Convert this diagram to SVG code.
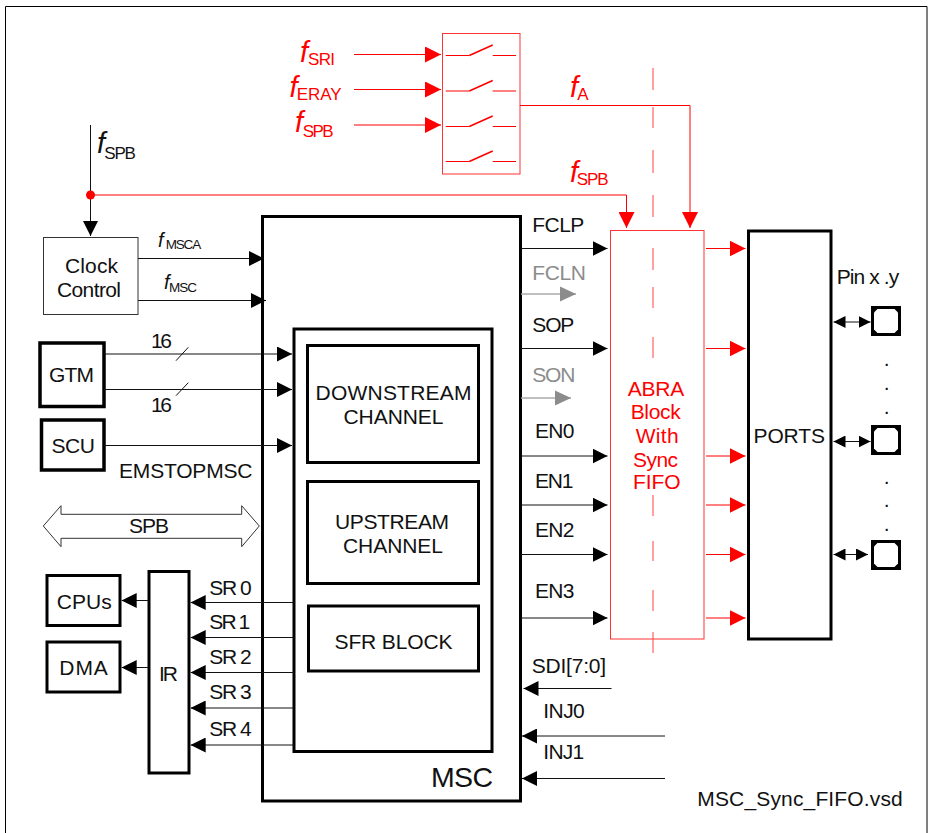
<svg xmlns="http://www.w3.org/2000/svg" width="928" height="833" viewBox="0 0 928 833">
<style>
text{font-family:"Liberation Sans",Arial,sans-serif;font-size:21px;fill:#111}
.r{fill:#f00}.g{fill:#8c8c8c}
.f{font-style:italic;font-size:29px}
.fs{font-style:italic;font-size:20px}
.s{font-size:17px}.ss{font-size:13.5px}
.b{fill:#fff;stroke:#000;stroke-width:3}
.bt{fill:#fff;stroke:#000;stroke-width:3.5}
.thin{fill:#fff;stroke:#333;stroke-width:1}
.rb{fill:#fff;stroke:#f33;stroke-width:1}
.k{fill:none;stroke:#111;stroke-width:1}
.ka{fill:none;stroke:#111;stroke-width:1;marker-end:url(#ah)}
.ra{fill:none;stroke:#f00;stroke-width:1;marker-end:url(#ahr)}
.ga{fill:none;stroke:#aaa;stroke-width:1.3;marker-end:url(#ahg)}
.rl{fill:none;stroke:#f00;stroke-width:1}
.da{fill:none;stroke:#111;stroke-width:1;marker-start:url(#ahs);marker-end:url(#ahe)}
</style>
<defs>
<marker id="ah" markerUnits="userSpaceOnUse" markerWidth="15" markerHeight="15" refX="15" refY="7.5" orient="auto"><path d="M0,0L15,7.5L0,15z" fill="#000"/></marker>
<marker id="ahr" markerUnits="userSpaceOnUse" markerWidth="16" markerHeight="16" refX="16" refY="8" orient="auto"><path d="M0,0L16,8L0,16z" fill="#f00"/></marker>
<marker id="ahg" markerUnits="userSpaceOnUse" markerWidth="16" markerHeight="16" refX="16" refY="8" orient="auto"><path d="M0,0.5L16,8L0,15.5z" fill="#8c8c8c"/></marker>
<marker id="ahe" markerUnits="userSpaceOnUse" markerWidth="12" markerHeight="12" refX="12" refY="6" orient="auto"><path d="M0,0L12,6L0,12z" fill="#000"/></marker>
<marker id="ahs" markerUnits="userSpaceOnUse" markerWidth="12" markerHeight="12" refX="0" refY="6" orient="auto"><path d="M12,0L0,6L12,12z" fill="#000"/></marker>
</defs>
<rect width="928" height="833" fill="#fff"/>
<path d="M5.5,833V6.5H927V833" fill="none" stroke="#000" stroke-width="1"/>

<g id="msc"><rect class="b" x="262.5" y="216.5" width="258" height="584.5"/><text x="431" y="787" style="font-size:28.5px" textLength="62">MSC</text></g>
<g id="msc-inner"><rect class="b" x="294" y="329" width="198" height="422.5"/></g>
<g id="downstream"><rect class="b" x="307.5" y="345.5" width="171" height="117"/><text x="315.5" y="400" textLength="156">DOWNSTREAM</text><text x="343.5" y="424" textLength="100">CHANNEL</text></g>
<g id="upstream"><rect class="b" x="307.5" y="481.5" width="171" height="102"/><text x="335" y="529" textLength="114">UPSTREAM</text><text x="343" y="552.7" textLength="100">CHANNEL</text></g>
<g id="sfr"><rect class="b" x="308.5" y="606" width="170" height="65"/><text x="334.5" y="649" textLength="118">SFR BLOCK</text></g>
<g id="clock"><rect class="thin" x="43.5" y="237.5" width="94.5" height="77"/><text x="65" y="272.7" textLength="53">Clock</text><text x="57" y="296.7" textLength="64">Control</text></g>
<g id="gtm"><rect class="bt" x="40" y="343" width="64" height="63.5"/><text x="49" y="381.7" textLength="45">GTM</text></g>
<g id="scu"><rect class="bt" x="41.5" y="420" width="62.5" height="50"/><text x="51.5" y="453.3" textLength="43.5">SCU</text></g>
<g id="spb"><path d="M43.3,526L61,505.7V514.3H241.7V505.7L259.3,526L241.7,546.7V538.3H61V546.7Z" fill="#fff" stroke="#333" stroke-width="1"/><text x="129" y="533.3" textLength="40">SPB</text></g>
<g id="cpus"><rect class="b" x="47" y="575.5" width="73" height="50"/><text x="56.7" y="609" textLength="55">CPUs</text></g>
<g id="dma"><rect class="b" x="47" y="642" width="73" height="50"/><text x="59.3" y="675" textLength="48.5">DMA</text></g>
<g id="ir"><rect class="b" x="149" y="571.5" width="40" height="201.5"/><text x="159" y="681" textLength="19">IR</text></g>
<g id="abra"><rect class="rb" x="610.5" y="230.5" width="93.5" height="408.5"/><text class="r" x="627.7" y="395.7" textLength="56.5">ABRA</text><text class="r" x="630.7" y="419.3" textLength="50">Block</text><text class="r" x="635.7" y="443.3" textLength="43">With</text><text class="r" x="633" y="467.3" textLength="45">Sync</text><text class="r" x="633" y="489" textLength="47.5">FIFO</text></g>
<g id="ports"><rect class="b" x="748.5" y="231" width="82.5" height="408"/><text x="753.5" y="443.3" textLength="71.5">PORTS</text></g>
<g id="pin1"><rect x="871" y="306" width="30" height="30" fill="#000"/><path d="M877.5,309H894.5L898,312.5V329.5L894.5,333H877.5L874,329.5V312.5Z" fill="#fff"/></g>
<g id="pin2"><rect x="871" y="425" width="30" height="30" fill="#000"/><path d="M877.5,428H894.5L898,431.5V448.5L894.5,452H877.5L874,448.5V431.5Z" fill="#fff"/></g>
<g id="pin3"><rect x="871" y="540" width="30" height="30" fill="#000"/><path d="M877.5,543H894.5L898,546.5V563.5L894.5,567H877.5L874,563.5V546.5Z" fill="#fff"/></g>
<g id="switch"><rect class="rb" x="442.5" y="33.5" width="77.5" height="140.5"/>
<path class="rl" d="M445.7,55.5H469.3M492.7,55.5H516M445.7,91H469.3M492.7,91H516M445.7,126.5H469.3M492.7,126.5H516M445.7,161.5H469.3M492.7,161.5H516"/>
<path d="M469.3,55.5L492.7,45M469.3,91L492.7,80.5M469.3,126.5L492.7,116M469.3,161.5L492.7,151" fill="none" stroke="#f00" stroke-width="1.6"/></g>

<g id="connectors">
<path class="ra" d="M354,54.5H441"/><path class="ra" d="M354,89.5H441"/><path class="ra" d="M354,125H441"/>
<path class="ra" d="M520,105.5H690V228"/>
<path class="ra" d="M90.5,195H626.5V228"/>
<path d="M653,68V90M653,107V128M653,150V173M653,195V217M653,248V270M653,287V308M653,337V358M653,495V516M653,541V561M653,590V611M653,632V653" fill="none" stroke="#f44" stroke-width="1"/>
<path class="ka" d="M90.5,125V236"/>
<circle cx="90.5" cy="195" r="4.5" fill="#f00"/>
<path class="ka" d="M138,258.5H264"/><path class="ka" d="M138,300.5H266"/>
<path class="ka" d="M104,354H292"/><path class="ka" d="M104,389.5H292"/><path class="ka" d="M104,445.5H292"/>
<path class="k" d="M176,360.7L188.3,347.3M176,395.7L188.3,382.7"/>
<path class="ka" d="M148,600.5H121.7"/><path class="ka" d="M148,667.5H121.7"/>
<path class="ka" d="M294,602.5H190.7"/><path class="ka" d="M294,637.5H190.7"/><path class="ka" d="M294,672.5H190.7"/><path class="ka" d="M294,708H190.7"/><path class="ka" d="M294,745H190.7"/>
<path class="ka" d="M521,248.5H607.5"/><path class="ga" d="M521,294H576"/><path class="ka" d="M521,348.5H607.5"/><path class="ga" d="M521,398H571"/><path class="ka" d="M521,456H607.5"/><path class="ka" d="M521,505H607.5"/><path class="ka" d="M521,554.5H607.5"/><path class="ka" d="M521,618H607.5"/>
<path class="ra" d="M706,248.5H745.5"/><path class="ra" d="M706,348.5H745.5"/><path class="ra" d="M706,456H745.5"/><path class="ra" d="M706,505H745.5"/><path class="ra" d="M706,554.5H745.5"/><path class="ra" d="M706,618H745.5"/>
<path class="ka" d="M611.5,688.5H523.5"/><path class="ka" d="M665,736H522"/><path class="ka" d="M665,778.5H522"/>
<path class="da" d="M833.5,322H870.5"/><path class="da" d="M833.5,441.5H870.5"/><path class="da" d="M833.5,554.5H868"/>
</g>

<g id="labels">
<text class="r f" x="300" y="61.7">f</text><text class="r s" x="308" y="64.5" textLength="27">SRI</text>
<text class="r f" x="289.5" y="96.7">f</text><text class="r s" x="296.7" y="100" textLength="45">ERAY</text>
<text class="r f" x="295" y="131.7">f</text><text class="r s" x="302.7" y="136.7" textLength="31">SPB</text>
<text class="r f" x="570" y="96.7">f</text><text class="r s" x="577.3" y="100">A</text>
<text class="r f" x="570" y="182">f</text><text class="r s" x="576.7" y="185" textLength="32">SPB</text>
<text class="f" x="97" y="152.7">f</text><text class="s" x="104.3" y="159" textLength="31.5">SPB</text>
<text class="fs" x="158" y="247.3">f</text><text class="ss" x="165.7" y="249" textLength="35.5">MSCA</text>
<text class="fs" x="164" y="289.3">f</text><text class="ss" x="169" y="292" textLength="28">MSC</text>
<text x="151" y="348.3" textLength="21">16</text><text x="151" y="412.3" textLength="21">16</text>
<text x="119" y="478" textLength="133.5">EMSTOPMSC</text>
<text x="209.3" y="595" textLength="42.5">SR 0</text><text x="209.3" y="629.3" textLength="41">SR 1</text><text x="209.3" y="664.3" textLength="42.5">SR 2</text><text x="209.3" y="699" textLength="42.5">SR 3</text><text x="209.3" y="736" textLength="42.5">SR 4</text>
<text x="532.3" y="232.3" textLength="52">FCLP</text><text class="g" x="532.3" y="280" textLength="53.5">FCLN</text><text x="532.3" y="331.7" textLength="42">SOP</text><text class="g" x="532.3" y="381.7" textLength="43">SON</text>
<text x="535" y="437.7" textLength="39.5">EN0</text><text x="535" y="488.3" textLength="38.5">EN1</text><text x="535" y="536.7" textLength="39.5">EN2</text><text x="535" y="597.7" textLength="39.5">EN3</text>
<text x="531.7" y="673.3" textLength="74.5">SDI[7:0]</text><text x="543.3" y="718.3" textLength="41.5">INJ0</text><text x="543.3" y="759.3" textLength="41">INJ1</text>
<text x="836.7" y="284.3" textLength="62.5">Pin x .y</text>
<text x="697.3" y="806" textLength="205.5">MSC_Sync_FIFO.vsd</text>
<g style="font-size:30px;text-anchor:middle"><text x="886.7" y="365.5">.</text><text x="886.7" y="389.5">.</text><text x="886.7" y="413.5">.</text><text x="886.7" y="483.5">.</text><text x="886.7" y="506.5">.</text><text x="886.7" y="530.5">.</text></g>
</g>
</svg>
